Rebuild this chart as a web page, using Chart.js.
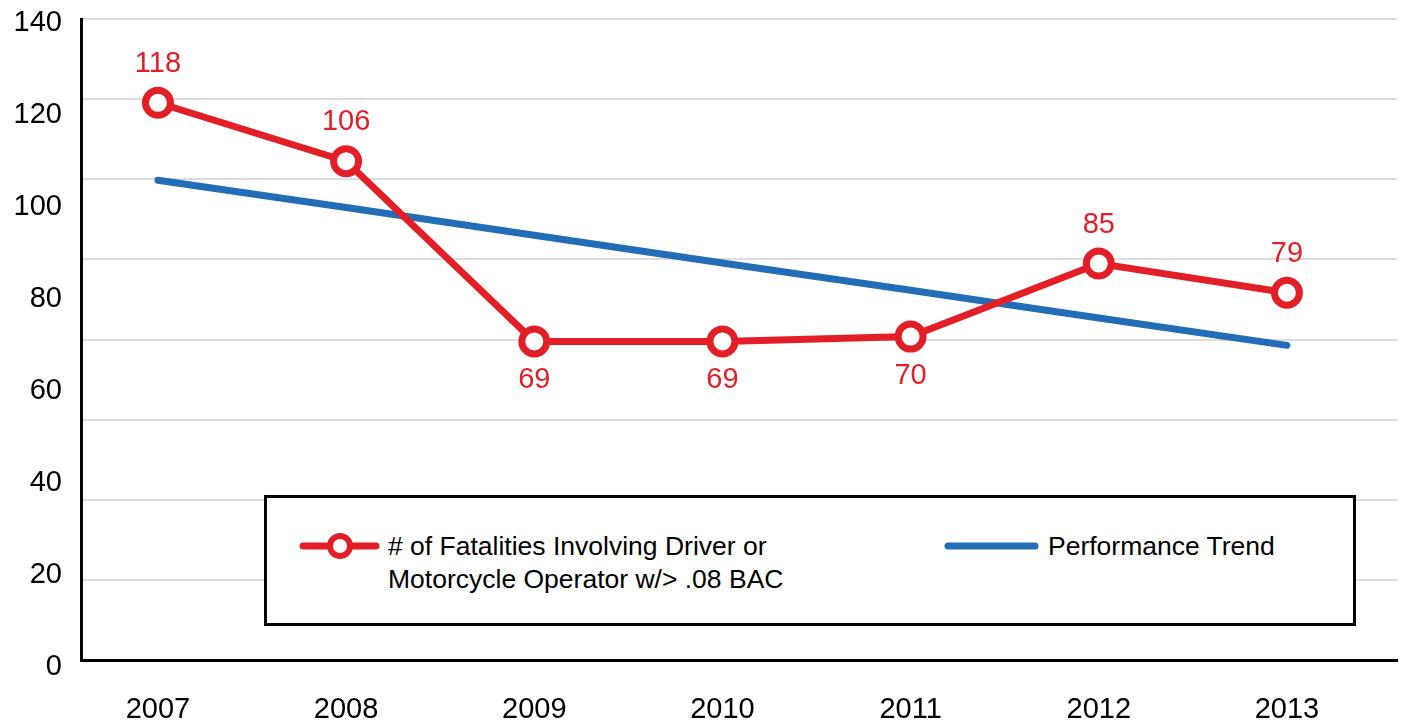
<!DOCTYPE html>
<html>
<head>
<meta charset="utf-8">
<script src="https://cdn.jsdelivr.net/npm/chart.js@4/dist/chart.umd.min.js"></script>
<style>
  html, body { margin: 0; padding: 0; background: #fff; }
  #wrap { position: relative; width: 1403px; height: 725px; overflow: hidden; }
  #legend {
    position: absolute; left: 264px; top: 495px; width: 1092px; height: 131px;
    box-sizing: border-box; border: 3px solid #000; background: #fff;
    font-family: "Liberation Sans", Arial, sans-serif; font-size: 26.5px; color: #000;
  }
  #legend svg { position: absolute; left: 0; top: 0; }
  .lg-text { position: absolute; line-height: 33px; white-space: nowrap; }
</style>
</head>
<body>
<div id="wrap">
  <canvas id="chart"></canvas>
  <div id="legend">
    <svg width="1086" height="125">
      <line x1="36" y1="48" x2="109" y2="48" stroke="#e21f27" stroke-width="7" stroke-linecap="round"/>
      <circle cx="73" cy="48" r="10" fill="#fff" stroke="#e21f27" stroke-width="6"/>
      <line x1="681" y1="48" x2="768" y2="48" stroke="#236cb6" stroke-width="7" stroke-linecap="round"/>
    </svg>
    <div class="lg-text" style="left:121px; top:32px;"># of Fatalities Involving Driver or<br>Motorcycle Operator w/&gt; .08 BAC</div>
    <div class="lg-text" style="left:781px; top:32px;">Performance Trend</div>
  </div>
</div>
<script>
const years = ['2007', '2008', '2009', '2010', '2011', '2012', '2013'];
const fatalities = [118, 106, 69, 69, 70, 85, 79];
const trend = [102.1, 96.5, 90.8, 85.1, 79.5, 73.8, 68.2];
const yTickLabels = [0, 20, 40, 60, 80, 100, 120, 140];
const gridSteps = [1, 2, 3, 4, 5, 6, 7, 8];

const RED = '#e21f27';
const BLUE = '#236cb6';
const FONT = '"Liberation Sans", Arial, sans-serif';

// value labels: above or below each red point
const labelSide = ['above', 'above', 'below', 'below', 'below', 'above', 'above'];

const valueLabels = {
  id: 'valueLabels',
  afterDatasetsDraw(chart) {
    const meta = chart.getDatasetMeta(0);
    const ctx = chart.ctx;
    ctx.save();
    ctx.font = '29px ' + FONT;
    ctx.fillStyle = RED;
    ctx.textAlign = 'center';
    ctx.textBaseline = 'middle';
    meta.data.forEach((pt, i) => {
      const dy = labelSide[i] === 'above' ? -39 : 39;
      ctx.fillText(String(fatalities[i]), pt.x, pt.y + dy);
    });
    ctx.restore();
  }
};

// keep chart area exactly where the reference has it
function noPad(axis) {
  axis.paddingTop = 0; axis.paddingBottom = 0;
  axis.paddingLeft = 0; axis.paddingRight = 0;
}

const ctx = document.getElementById('chart').getContext('2d');
new Chart(ctx, {
  type: 'line',
  data: {
    datasets: [
      {
        label: '# of Fatalities Involving Driver or Motorcycle Operator w/> .08 BAC',
        data: fatalities.map((v, i) => ({ x: i, y: v })),
        borderColor: RED,
        borderWidth: 7,
        pointRadius: 12.5,
        pointHoverRadius: 12.5,
        pointBorderWidth: 7,
        pointBackgroundColor: '#fff',
        pointBorderColor: RED,
        tension: 0,
        yAxisID: 'y'
      },
      {
        label: 'Performance Trend',
        data: trend.map((v, i) => ({ x: i, y: v })),
        borderColor: BLUE,
        borderWidth: 7,
        borderCapStyle: 'round',
        pointRadius: 0,
        tension: 0,
        yAxisID: 'y'
      }
    ]
  },
  options: {
    responsive: true,
    maintainAspectRatio: false,
    animation: false,
    layout: { autoPadding: false, padding: { top: 19, right: 6, left: 0, bottom: 0 } },
    plugins: { legend: { display: false }, tooltip: { enabled: false } },
    scales: {
      x: {
        type: 'linear',
        min: -0.409,
        max: 6.585,
        afterBuildTicks: axis => { axis.ticks = years.map((y, i) => ({ value: i })); },
        afterFit: axis => { axis.height = 65; noPad(axis); },
        ticks: {
          callback: v => years[v],
          color: '#000',
          font: { family: FONT, size: 29 },
          padding: 33,
          maxRotation: 0
        },
        grid: { display: false, drawTicks: false },
        border: { display: true, color: '#000', width: 3 }
      },
      y: {
        display: false,
        min: 3.6,
        max: 135.2
      },
      yLabels: {
        position: 'left',
        min: 1.52,
        max: 140.87,
        afterBuildTicks: axis => { axis.ticks = yTickLabels.map(v => ({ value: v })); },
        afterFit: axis => { axis.width = 81; noPad(axis); },
        ticks: {
          color: '#000',
          font: { family: FONT, size: 29 },
          padding: 19
        },
        grid: { display: false, drawTicks: false },
        border: { display: true, color: '#000', width: 3 }
      },
      yGrid: {
        position: 'right',
        min: 0,
        max: 8,
        afterBuildTicks: axis => { axis.ticks = gridSteps.map(v => ({ value: v })); },
        afterFit: axis => { axis.width = 0; noPad(axis); },
        ticks: { display: false },
        grid: { color: '#dcdcdc', lineWidth: 2, drawTicks: false },
        border: { display: false }
      }
    }
  },
  plugins: [valueLabels]
});
</script>
</body>
</html>
